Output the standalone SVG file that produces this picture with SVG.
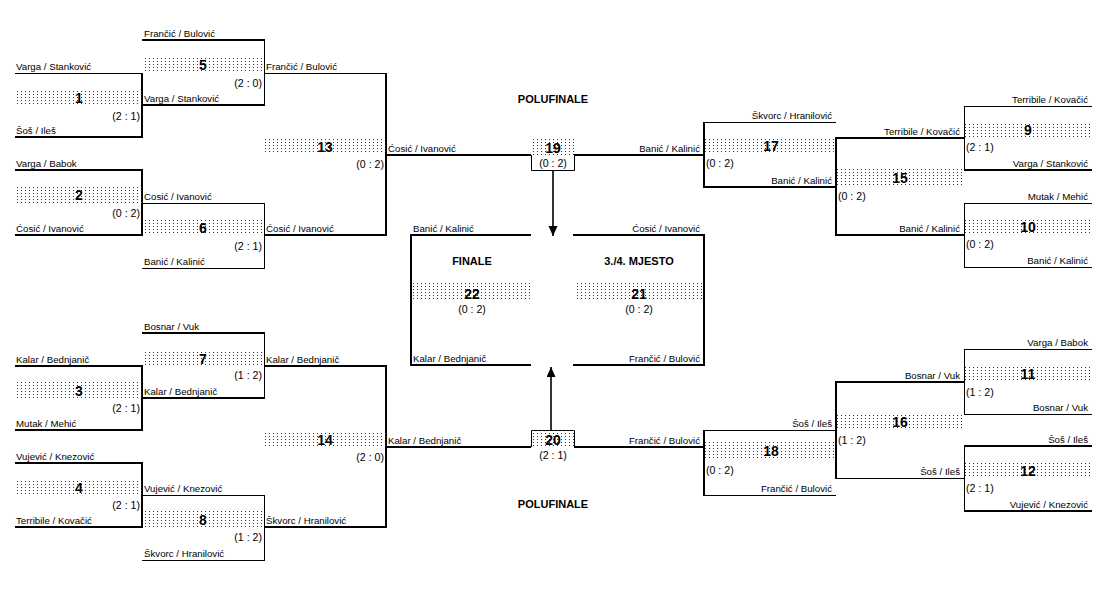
<svg xmlns="http://www.w3.org/2000/svg" width="1107" height="590" viewBox="0 0 1107 590">
<style>
text{font-family:"Liberation Sans",Arial,sans-serif;fill:#000}
.nm{font-size:9.7px}
.sc{font-size:10.6px}
.no{font-size:14px;font-weight:bold;text-anchor:middle}
.ttl{font-size:11px;font-weight:bold;text-anchor:middle}
.e{text-anchor:end}
.m{text-anchor:middle}
.band{fill:url(#dots)}
.k{stroke:#000;stroke-width:2;fill:none}
.n{stroke:#000;stroke-width:1;fill:none}
.ar{stroke:#000;stroke-width:1.6;fill:none}
</style>
<defs>
<pattern id="dots" width="4" height="3" patternUnits="userSpaceOnUse"><rect x="1" y="1" width="1" height="1" fill="#333"/></pattern>
<marker id="ah" markerUnits="userSpaceOnUse" markerWidth="11" markerHeight="10" refX="10" refY="4.5" orient="auto"><path d="M0,0 L10,4.5 L0,9 Z" fill="#000"/></marker>
</defs>
<rect width="1107" height="590" fill="#fff"/>

<g id="connectors">
<line class="n" x1="15" y1="73.5" x2="142" y2="73.5"/><line class="k" x1="15" y1="137" x2="143" y2="137"/><line class="k" x1="142" y1="73" x2="142" y2="138"/>
<line class="k" x1="15" y1="170" x2="143" y2="170"/><line class="k" x1="15" y1="235" x2="143" y2="235"/><line class="k" x1="142" y1="169" x2="142" y2="236"/>
<line class="k" x1="15" y1="366" x2="143" y2="366"/><line class="k" x1="15" y1="430" x2="143" y2="430"/><line class="k" x1="142" y1="365" x2="142" y2="431"/>
<line class="k" x1="15" y1="463" x2="143" y2="463"/><line class="k" x1="15" y1="527" x2="143" y2="527"/><line class="k" x1="142" y1="462" x2="142" y2="528"/>
<line class="k" x1="142" y1="40" x2="265" y2="40"/><line class="k" x1="142" y1="105" x2="265" y2="105"/><line class="n" x1="264.5" y1="39" x2="264.5" y2="106"/>
<line class="n" x1="142" y1="203.5" x2="265" y2="203.5"/><line class="n" x1="142" y1="268.5" x2="265" y2="268.5"/><line class="n" x1="264.5" y1="203" x2="264.5" y2="269"/>
<line class="k" x1="142" y1="333" x2="265" y2="333"/><line class="k" x1="142" y1="398" x2="265" y2="398"/><line class="n" x1="264.5" y1="332" x2="264.5" y2="399"/>
<line class="n" x1="142" y1="495.5" x2="265" y2="495.5"/><line class="n" x1="142" y1="560.5" x2="265" y2="560.5"/><line class="n" x1="264.5" y1="495" x2="264.5" y2="561"/>
<line class="n" x1="264" y1="73.5" x2="386" y2="73.5"/><line class="k" x1="264" y1="235" x2="387" y2="235"/><line class="k" x1="386" y1="73" x2="386" y2="236"/>
<line class="k" x1="264" y1="366" x2="387" y2="366"/><line class="k" x1="264" y1="527" x2="387" y2="527"/><line class="k" x1="386" y1="365" x2="386" y2="528"/>
<line class="k" x1="386" y1="155" x2="531" y2="155"/><line class="k" x1="386" y1="447" x2="531" y2="447"/>
<line class="k" x1="574" y1="155" x2="704" y2="155"/><line class="k" x1="574" y1="447" x2="704" y2="447"/>
<path class="n" d="M531.5,155 V170.5 H574.5 V155"/>
<path class="n" d="M531.5,447 V430.5 H574.5 V447"/>
<path class="k" d="M531,235 H411 V365 H531"/>
<path class="k" d="M573,235 H704 V365 H573"/>
<line class="ar" x1="553" y1="171" x2="553" y2="236" marker-end="url(#ah)"/>
<line class="ar" x1="551" y1="430" x2="551" y2="367" marker-end="url(#ah)"/>
<line class="n" x1="703" y1="122.5" x2="836" y2="122.5"/><line class="k" x1="703" y1="187" x2="836" y2="187"/><line class="k" x1="704" y1="122" x2="704" y2="188"/>
<line class="k" x1="835" y1="138" x2="964" y2="138"/><line class="k" x1="835" y1="235" x2="964" y2="235"/><line class="k" x1="836" y1="137" x2="836" y2="236"/>
<line class="n" x1="964" y1="106.5" x2="1092" y2="106.5"/><line class="k" x1="964" y1="170" x2="1092" y2="170"/><line class="n" x1="964.5" y1="106" x2="964.5" y2="171"/>
<line class="n" x1="964" y1="203.5" x2="1092" y2="203.5"/><line class="n" x1="964" y1="267.5" x2="1092" y2="267.5"/><line class="n" x1="964.5" y1="203" x2="964.5" y2="268"/>
<line class="n" x1="703" y1="430.5" x2="836" y2="430.5"/><line class="n" x1="703" y1="495.5" x2="836" y2="495.5"/><line class="k" x1="704" y1="430" x2="704" y2="496"/>
<line class="k" x1="835" y1="382" x2="964" y2="382"/><line class="n" x1="835" y1="478.5" x2="964" y2="478.5"/><line class="k" x1="836" y1="381" x2="836" y2="479"/>
<line class="n" x1="964" y1="349.5" x2="1092" y2="349.5"/><line class="n" x1="964" y1="414.5" x2="1092" y2="414.5"/><line class="n" x1="964.5" y1="349" x2="964.5" y2="415"/>
<line class="k" x1="964" y1="446" x2="1092" y2="446"/><line class="k" x1="964" y1="511" x2="1092" y2="511"/><line class="n" x1="964.5" y1="446" x2="964.5" y2="511"/>
</g>

<g id="titles">
<text class="ttl" x="553" y="103">POLUFINALE</text>
<text class="ttl" x="553" y="508">POLUFINALE</text>
</g>

<g id="m1"><rect class="band" x="15" y="91" width="127" height="15"/><text class="no" x="79" y="103">1</text><text class="sc e" x="140" y="120">(2 : 1)</text><text class="nm" x="16" y="70">Varga / Stanković</text><text class="nm" x="16" y="134">Šoš / Ileš</text></g>
<g id="m2"><rect class="band" x="15" y="187" width="127" height="16"/><text class="no" x="79" y="200">2</text><text class="sc e" x="140" y="217">(0 : 2)</text><text class="nm" x="16" y="167">Varga / Babok</text><text class="nm" x="16" y="232">Ćosić / Ivanović</text></g>
<g id="m3"><rect class="band" x="15" y="382" width="127" height="16"/><text class="no" x="79" y="396">3</text><text class="sc e" x="140" y="412">(2 : 1)</text><text class="nm" x="16" y="363">Kalar / Bednjanič</text><text class="nm" x="16" y="427">Mutak / Mehić</text></g>
<g id="m4"><rect class="band" x="15" y="479" width="127" height="16"/><text class="no" x="79" y="493">4</text><text class="sc e" x="140" y="509">(2 : 1)</text><text class="nm" x="16" y="460">Vujević / Knezović</text><text class="nm" x="16" y="524">Terribile / Kovačić</text></g>
<g id="m5"><rect class="band" x="142" y="57" width="122" height="16"/><text class="no" x="203" y="70">5</text><text class="sc e" x="262" y="87">(2 : 0)</text><text class="nm" x="144" y="37">Frančić / Bulović</text><text class="nm" x="144" y="102">Varga / Stanković</text></g>
<g id="m6"><rect class="band" x="142" y="219" width="122" height="16"/><text class="no" x="203" y="233">6</text><text class="sc e" x="262" y="250">(2 : 1)</text><text class="nm" x="144" y="200">Cosić / Ivanović</text><text class="nm" x="144" y="265">Banić / Kalinić</text></g>
<g id="m7"><rect class="band" x="142" y="350" width="122" height="16"/><text class="no" x="203" y="364">7</text><text class="sc e" x="262" y="379">(1 : 2)</text><text class="nm" x="144" y="330">Bosnar / Vuk</text><text class="nm" x="144" y="395">Kalar / Bednjanič</text></g>
<g id="m8"><rect class="band" x="142" y="511" width="122" height="16"/><text class="no" x="203" y="525">8</text><text class="sc e" x="262" y="541">(1 : 2)</text><text class="nm" x="144" y="492">Vujević / Knezović</text><text class="nm" x="144" y="557">Škvorc / Hranilović</text></g>
<g id="m13"><rect class="band" x="264" y="138" width="122" height="16"/><text class="no" x="325" y="152">13</text><text class="sc e" x="384" y="168">(0 : 2)</text><text class="nm" x="266" y="70">Frančić / Bulović</text><text class="nm" x="266" y="232">Ćosić / Ivanović</text></g>
<g id="m14"><rect class="band" x="264" y="431" width="122" height="16"/><text class="no" x="325" y="445">14</text><text class="sc e" x="384" y="461">(2 : 0)</text><text class="nm" x="266" y="363">Kalar / Bednjanič</text><text class="nm" x="266" y="524">Škvorc / Hranilović</text></g>
<g id="m19"><rect class="band" x="531" y="139" width="43" height="16"/><text class="no" x="553" y="153">19</text><text class="sc m" x="553" y="167">(0 : 2)</text><text class="nm" x="388" y="152">Ćosić / Ivanović</text><text class="nm e" x="700" y="152">Banić / Kalinić</text></g>
<g id="m20"><rect class="band" x="531" y="430" width="43" height="17"/><text class="no" x="553" y="445">20</text><text class="sc m" x="553" y="459">(2 : 1)</text><text class="nm" x="388" y="444">Kalar / Bednjanič</text><text class="nm e" x="700" y="444">Frančić / Bulović</text></g>
<g id="m22"><text class="ttl" x="472" y="265">FINALE</text><rect class="band" x="411" y="283" width="120" height="17"/><text class="no" x="472" y="299">22</text><text class="sc m" x="472" y="313">(0 : 2)</text><text class="nm" x="413" y="232">Banić / Kalinić</text><text class="nm" x="413" y="362">Kalar / Bednjanič</text></g>
<g id="m21"><text class="ttl" x="639" y="265">3./4. MJESTO</text><rect class="band" x="575" y="283" width="129" height="17"/><text class="no" x="639" y="299">21</text><text class="sc m" x="639" y="313">(0 : 2)</text><text class="nm e" x="700" y="232">Ćosić / Ivanović</text><text class="nm e" x="700" y="362">Frančić / Bulović</text></g>
<g id="m17"><rect class="band" x="704" y="137" width="132" height="16"/><text class="no" x="771" y="151">17</text><text class="sc" x="706" y="167">(0 : 2)</text><text class="nm e" x="832" y="119">Škvorc / Hranilović</text><text class="nm e" x="832" y="184">Banić / Kalinić</text></g>
<g id="m15"><rect class="band" x="836" y="169" width="128" height="16"/><text class="no" x="900" y="183">15</text><text class="sc" x="838" y="200">(0 : 2)</text><text class="nm e" x="960" y="135">Terribile / Kovačić</text><text class="nm e" x="960" y="232">Banić / Kalinić</text></g>
<g id="m9"><rect class="band" x="964" y="122" width="128" height="15"/><text class="no" x="1028" y="135">9</text><text class="sc" x="966" y="151">(2 : 1)</text><text class="nm e" x="1088" y="103">Terribile / Kovačić</text><text class="nm e" x="1088" y="167">Varga / Stanković</text></g>
<g id="m10"><rect class="band" x="964" y="218" width="128" height="16"/><text class="no" x="1028" y="232">10</text><text class="sc" x="966" y="248">(0 : 2)</text><text class="nm e" x="1088" y="200">Mutak / Mehić</text><text class="nm e" x="1088" y="264">Banić / Kalinić</text></g>
<g id="m18"><rect class="band" x="704" y="442" width="132" height="16"/><text class="no" x="771" y="456">18</text><text class="sc" x="706" y="474">(0 : 2)</text><text class="nm e" x="832" y="427">Šoš / Ileš</text><text class="nm e" x="832" y="492">Frančić / Bulović</text></g>
<g id="m16"><rect class="band" x="836" y="413" width="128" height="17"/><text class="no" x="900" y="427">16</text><text class="sc" x="838" y="444">(1 : 2)</text><text class="nm e" x="960" y="379">Bosnar / Vuk</text><text class="nm e" x="960" y="475">Šoš / Ileš</text></g>
<g id="m11"><rect class="band" x="964" y="365" width="128" height="17"/><text class="no" x="1028" y="379">11</text><text class="sc" x="966" y="396">(1 : 2)</text><text class="nm e" x="1088" y="346">Varga / Babok</text><text class="nm e" x="1088" y="411">Bosnar / Vuk</text></g>
<g id="m12"><rect class="band" x="964" y="462" width="128" height="16"/><text class="no" x="1028" y="476">12</text><text class="sc" x="966" y="492">(2 : 1)</text><text class="nm e" x="1088" y="443">Šoš / Ileš</text><text class="nm e" x="1088" y="508">Vujević / Knezović</text></g>
</svg>
